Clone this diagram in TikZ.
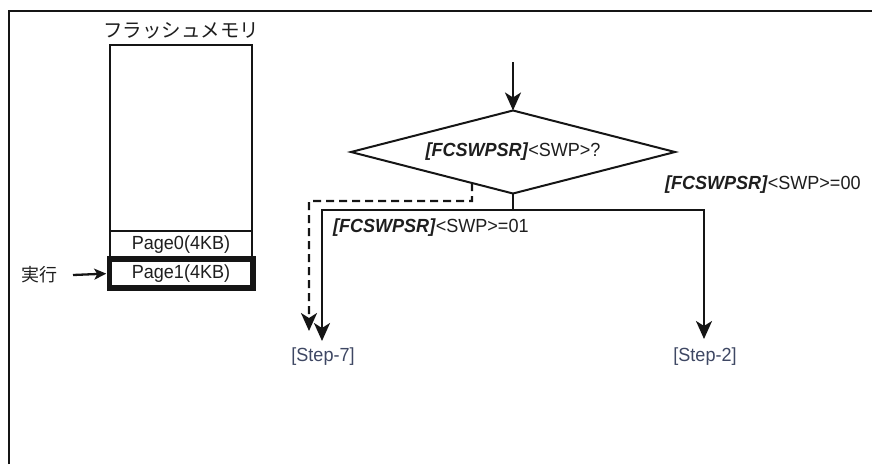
\documentclass[tikz,border=0pt]{standalone}
\usepackage{fontspec}
\setmainfont{Liberation Sans}[FakeStretch=0.95]
\newfontfamily\jp{Noto Sans CJK JP}
\usetikzlibrary{shapes.geometric,arrows.meta,calc}
\definecolor{ln}{HTML}{151515}
\definecolor{tx}{HTML}{1E1E1E}
\definecolor{stx}{HTML}{3E4763}
\begin{document}
\begin{tikzpicture}[x=1pt,y=-1pt,
  every node/.style={inner sep=0pt,outer sep=0pt,text=tx},
  lbl/.style={font=\fontsize{19}{21}\selectfont},
  jlbl/.style={font=\jp\fontsize{19.5}{21}\selectfont},
  steplbl/.style={font=\fontsize{19}{21}\selectfont,text=stx,anchor=north},
  thin box/.style={draw=ln,line width=2pt,minimum width=142.5pt},
  flow/.style={draw=ln,line width=2.3pt},
  arr/.style={flow,-{Stealth[length=18pt,width=16pt,inset=5pt]}},
  darr/.style={arr,dash pattern=on 8pt off 5pt},
  sarr/.style={flow,-{Stealth[length=12pt,width=11pt,inset=3pt]}},
]
\useasboundingbox (0,0) rectangle (872,464);
% frame
\draw[draw=ln,line width=2pt] (8.5,464) -- (8.5,11) -- (872,11);

% flash memory
\node[jlbl] (title) at (181,31) {フラッシュメモリ};
\node[thin box,minimum height=186pt] (mem) at (181,137.5) {};
\node[thin box,minimum height=28pt,lbl] (page0) at (181,244.5) {Page0(4KB)};
\node[draw=ln,line width=5.5pt,minimum width=143.5pt,minimum height=29pt,lbl] (page1) at (181,273.5) {Page1(4KB)};
\node[jlbl,font=\jp\fontsize{18}{20}\selectfont] (run) at (39,275) {実行};
\coordinate (a0) at (73,275);
\draw[sarr,shorten >=3pt] (a0) -- (page1.west);

% decision
\coordinate (in) at (513,62);
\node[diamond,draw=ln,line width=2pt,minimum width=324pt,minimum height=83pt,aspect=3.9,lbl] (q) at (513,152)
  {\textbf{\textit{[FCSWPSR]}}<SWP>?};
\draw[arr] (in) -- (q.north);

\coordinate (j) at (513,210);
\coordinate (cl) at (322,210);
\coordinate (cr) at (704,210);
\node[steplbl] (s7) at (323,348) {[Step-7]};
\node[steplbl] (s2) at (705,348) {[Step-2]};
\draw[flow] (q.south) -- (j);
\draw[arr,shorten >=7pt] (j) -- (cl) -- (cl |- s7.north);
\draw[arr,shorten >=9pt] (j) -- (cr) -- (cr |- s2.north);

% dashed path
\coordinate (d0) at ($(q.west)!0.747!(q.south)$);
\coordinate (d1) at (472,201);
\coordinate (d2) at (309,201);
\coordinate (d3) at (309,331);
\draw[darr] (d0) -- (d1) -- (d2) -- (d3);

% branch labels
\node[lbl,anchor=west] (l01) at (333,228) {\textbf{\textit{[FCSWPSR]}}<SWP>=01};
\node[lbl,anchor=west] (l00) at (665,185) {\textbf{\textit{[FCSWPSR]}}<SWP>=00};
\end{tikzpicture}
\end{document}
